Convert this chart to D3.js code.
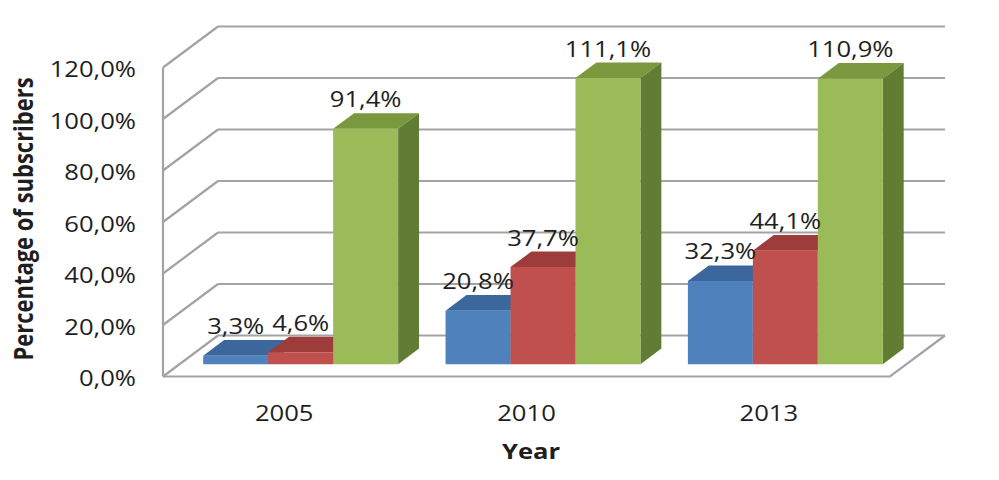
<!DOCTYPE html>
<html>
<head>
<meta charset="utf-8">
<script src="https://cdn.jsdelivr.net/npm/d3@7"></script>
<style>
  body { margin: 0; background: #fff; }
  text { font-family: "Open Sans", sans-serif; fill: #1e1e1e; }
</style>
</head>
<body>
<script>
/* Chart data */
var years = ['2005', '2010', '2013'];
var seriesNames = ['s1', 's2', 's3'];
var series1 = [3.3, 20.8, 32.3];
var series2 = [4.6, 37.7, 44.1];
var series3 = [91.4, 111.1, 110.9];
var yTicks = [0, 20, 40, 60, 80, 100, 120];

var seriesValues = [series1, series2, series3];

/* Colours: front, top and side faces */
var frontCol = ['#4F81BD', '#C0504D', '#9BBB59'];
var topCol = ['#3B679D', '#9D3C3A', '#7A993E'];
var sideCol = ['#375C8A', '#8F302E', '#617D33'];

/* Geometry of the 3D box */
var left = 163, right = 890,
    yBase = 376.5, yTop = 67.5,
    DX = 55, DY = 41,
    f1 = 0.3, f2 = 0.68,
    SX = 1.22;   /* horizontal stretch of the text */

var svg = d3.select('body')
    .append('svg')
    .attr('width', 999)
    .attr('height', 480);

var x0 = d3.scaleBand().domain(years).range([left, right]);
var x1 = d3.scaleBand().domain(seriesNames)
    .range([0, x0.bandwidth()])
    .paddingOuter(0.365);
var y = d3.scaleLinear().domain([0, 120]).range([yBase, yTop]);

/* project a point at front-plane x, value v, depth f */
function P(x, v, f) {
    return [x + DX * f, y(v) - DY * f];
}
function poly(pts) {
    return pts.map(function (p) { return p[0].toFixed(2) + ',' + p[1].toFixed(2); }).join(' ');
}

var grid = '#A3A3A3';

/* Back wall gridlines and left wall diagonals */
yTicks.forEach(function (t) {
    var a = P(left, t, 1), b = P(right, t, 1), c = P(left, t, 0);
    svg.append('line')
        .attr('x1', a[0]).attr('y1', a[1])
        .attr('x2', b[0] + DX * 0).attr('y2', b[1])
        .attr('stroke', grid).attr('stroke-width', 2.2);
    svg.append('line')
        .attr('x1', c[0]).attr('y1', c[1])
        .attr('x2', a[0]).attr('y2', a[1])
        .attr('stroke', grid).attr('stroke-width', 2.2);
});

/* Left wall front edge */
svg.append('line')
    .attr('x1', left).attr('y1', y(120))
    .attr('x2', left).attr('y2', y(0))
    .attr('stroke', grid).attr('stroke-width', 2.2);

/* Floor front and right edges */
var fl = P(left, 0, 0), fr = P(right, 0, 0), br = P(right, 0, 1);
svg.append('polyline')
    .attr('points', poly([fl, fr, br]))
    .attr('fill', 'none')
    .attr('stroke', grid).attr('stroke-width', 2.2);

/* Bars, left to right so the right neighbour covers the side face */
years.forEach(function (yr, i) {
    seriesNames.forEach(function (s, j) {
        var v = seriesValues[j][i];
        var xa = x0(yr) + x1(s), xb = xa + x1.bandwidth();
        var g = svg.append('g');
        /* top face */
        g.append('polygon')
            .attr('points', poly([P(xa, v, f1), P(xb, v, f1), P(xb, v, f2), P(xa, v, f2)]))
            .attr('fill', topCol[j]);
        /* side face */
        g.append('polygon')
            .attr('points', poly([P(xb, 0, f1), P(xb, v, f1), P(xb, v, f2), P(xb, 0, f2)]))
            .attr('fill', sideCol[j]);
        /* front face */
        g.append('polygon')
            .attr('points', poly([P(xa, 0, f1), P(xb, 0, f1), P(xb, v, f1), P(xa, v, f1)]))
            .attr('fill', frontCol[j]);
    });
});

/* Value labels */
years.forEach(function (yr, i) {
    seriesNames.forEach(function (s, j) {
        var v = seriesValues[j][i];
        var xc = x0(yr) + x1(s) + x1.bandwidth() / 2;
        var p = P(xc, v, f1), q = P(xc, v, f2);
        svg.append('text')
            .attr('transform', 'translate(' + p[0] + ',' + (q[1] - 6) + ') scale(' + SX + ',1)')
            .attr('text-anchor', 'middle')
            .style('font-size', '21px')
            .text(v.toFixed(1).replace('.', ',') + '%');
    });
});

/* Y tick labels */
yTicks.forEach(function (t) {
    svg.append('text')
        .attr('transform', 'translate(136,' + (y(t) + 9.5) + ') scale(' + SX + ',1)')
        .attr('text-anchor', 'end')
        .style('font-size', '21px')
        .text(t.toFixed(1).replace('.', ',') + '%');
});

/* Category labels */
years.forEach(function (yr) {
    svg.append('text')
        .attr('transform', 'translate(' + (x0(yr) + x0.bandwidth() / 2) + ',421) scale(' + SX + ',1)')
        .attr('text-anchor', 'middle')
        .style('font-size', '21px')
        .text(yr);
});

/* Axis titles */
svg.append('text')
    .attr('transform', 'translate(531,459) scale(' + SX + ',1)')
    .attr('text-anchor', 'middle')
    .style('font-size', '21px')
    .style('font-weight', 'bold')
    .text('Year');

svg.append('text')
    .attr('transform', 'translate(33,219) rotate(-90) scale(1,' + SX + ')')
    .attr('text-anchor', 'middle')
    .style('font-size', '22px')
    .style('font-weight', 'bold')
    .text('Percentage of subscribers');
</script>
</body>
</html>
